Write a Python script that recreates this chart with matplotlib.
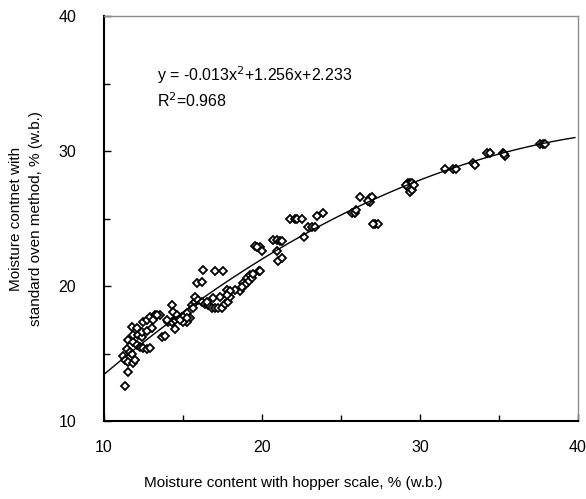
import numpy as np
import matplotlib
matplotlib.use("Agg")
import matplotlib.pyplot as plt
from matplotlib.ticker import MultipleLocator

plt.rcParams['font.family'] = ['Liberation Sans', 'DejaVu Sans']

# Measured data (hopper scale vs standard oven), % w.b.
hopper = [
    11.33, 11.52,
    11.20, 11.33, 11.52, 11.84, 11.96,
    11.46, 11.65, 11.77,
    11.52, 11.84, 12.09, 12.28, 12.47, 12.72, 12.91,
    11.84, 12.15, 12.41,
    11.77, 12.09,
    12.47, 12.72, 12.91, 13.23, 13.54,
    12.41, 12.72, 13.04,
    13.67, 13.86,
    14.05, 14.30, 14.49, 14.68, 14.94, 15.13, 15.25, 15.44, 15.25, 15.00,
    14.30, 14.49,
    15.57, 15.76, 15.63,
    14.37, 14.62, 15.00, 15.25, 14.81, 14.00, 13.35, 13.10,
    15.76, 15.95, 16.20, 16.39, 16.58, 16.84, 17.03, 17.22, 17.47, 17.66, 17.85, 17.97, 17.78,
    18.61, 18.80, 19.05,
    15.89, 16.20,
    16.27, 17.03, 17.53,
    18.29, 18.00, 17.78, 17.34, 16.90, 16.52,
    19.24, 19.37, 19.11, 18.92, 18.73,
    19.81, 19.43, 19.87,
    19.56, 19.87, 20.00, 19.68,
    20.70, 20.95, 21.14, 21.27,
    20.95,
    21.01, 21.27,
    21.77, 22.09, 22.22, 22.53,
    22.91, 23.16, 23.35,
    22.66,
    23.48, 23.86,
    25.70, 25.89, 25.95,
    26.20, 26.84, 26.84, 26.96, 26.71,
    27.15, 27.34, 27.00,
    29.24, 29.37, 29.49, 29.24, 29.37, 29.49, 29.60, 29.10,
    31.58, 32.09, 32.30,
    33.35, 33.50,
    34.24, 34.43,
    35.25, 35.38, 35.30,
    37.59, 37.78, 37.90,
]
oven = [
    12.6, 13.6,
    14.8, 14.5, 14.4, 14.3, 14.5,
    15.3, 15.1, 15.0,
    16.0, 15.85, 15.6, 15.5, 15.4, 15.3, 15.4,
    16.4, 16.4, 16.2,
    17.0, 16.9,
    17.3, 17.5, 17.7, 17.85, 17.85,
    16.6, 16.7, 16.9,
    16.2, 16.3,
    17.3, 17.3, 17.5, 17.6, 17.7, 17.85, 18.0, 17.6, 17.3, 17.3,
    18.6, 16.8,
    18.6, 18.8, 18.4,
    18.1, 17.85, 17.7, 17.6, 17.5, 17.5, 17.85, 17.5,
    19.2, 19.0, 18.8, 18.7, 18.6, 18.4, 18.4, 18.4, 18.4, 18.7, 18.8, 19.2, 19.7,
    19.6, 20.2, 20.6,
    20.2, 20.3,
    21.2, 21.1, 21.1,
    19.7, 19.6, 19.3, 19.2, 19.1, 18.8,
    20.8, 20.6, 20.3, 20.1, 19.9,
    21.1, 20.9, 21.1,
    23.0, 22.9, 22.6, 22.9,
    23.4, 23.4, 23.3, 23.3,
    22.6,
    21.85, 22.1,
    25.0, 25.0, 25.0, 25.0,
    24.4, 24.4, 24.4,
    23.6,
    25.2, 25.4,
    25.4, 25.4, 25.6,
    26.6, 26.5, 26.2, 26.6, 26.3,
    24.6, 24.6, 24.6,
    27.6, 27.6, 27.6, 27.3, 27.0, 27.1, 27.5, 27.5,
    28.7, 28.7, 28.7,
    29.1, 29.0,
    29.85, 29.85,
    29.85, 29.6, 29.8,
    30.5, 30.5, 30.5,
]

fit_coef = [-0.0134, 1.256, 2.233]   # drawn trendline (a, b, c)
fit_range = [10.0, 39.8]
eq_text = "y = -0.013x$^2$+1.256x+2.233"
r2_text = "R$^2$=0.968"

fig = plt.figure(figsize=(5.86, 4.99), dpi=100)
ax = fig.add_axes([104/586, 1-421/499, 474/586, 405/499])

ax.plot(hopper, oven, linestyle='none', marker='D', markersize=4.5,
        markerfacecolor='white', markeredgecolor='black', markeredgewidth=1.3)

xf = np.linspace(fit_range[0], fit_range[1], 200)
yf = np.polyval(fit_coef, xf)
ax.plot(xf, yf, color='black', linewidth=1.0)

ax.set_xlim(10, 40)
ax.set_ylim(10, 40)
ax.xaxis.set_major_locator(MultipleLocator(10))
ax.xaxis.set_minor_locator(MultipleLocator(5))
ax.yaxis.set_major_locator(MultipleLocator(10))
ax.yaxis.set_minor_locator(MultipleLocator(5))
ax.tick_params(axis='both', which='both', direction='in', top=False, right=False,
               color='black', width=1.0)
ax.tick_params(axis='both', which='major', length=5, labelsize=11.5)
ax.tick_params(axis='both', which='minor', length=4)
ax.tick_params(axis='x', which='major', pad=14)
ax.tick_params(axis='y', which='major', pad=20)

for s in ['left', 'bottom']:
    ax.spines[s].set_color('black')
    ax.spines[s].set_linewidth(1.5)
for s in ['top', 'right']:
    ax.spines[s].set_color('#8c8c8c')
    ax.spines[s].set_linewidth(1.0)

ax.text(0.112, 0.855, eq_text, transform=ax.transAxes, fontsize=11.5,
        ha='left', va='center')
ax.text(0.112, 0.79, r2_text, transform=ax.transAxes, fontsize=11.5,
        ha='left', va='center')

fig.text(0.5, 0.032, "Moisture content with hopper scale, % (w.b.)",
         ha='center', va='center', fontsize=11)
fig.text(0.0445, 0.562, "Moisture contnet with\nstandard oven method, % (w.b.)",
         ha='center', va='center', rotation=90, fontsize=11,
         multialignment='center', linespacing=1.6)

fig.savefig("out.png", dpi=100)
